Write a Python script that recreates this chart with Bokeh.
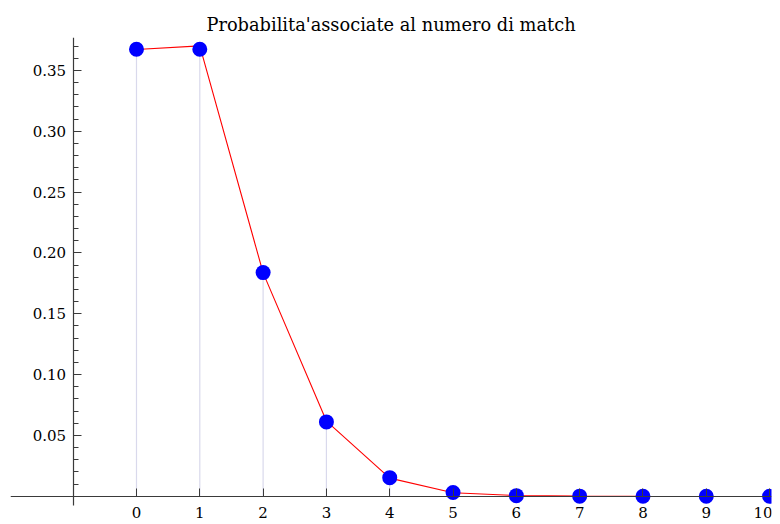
from bokeh.plotting import figure
from bokeh.models import (Range1d, LinearAxis, FixedTicker, PrintfTickFormatter,
                          ColumnDataSource)
from bokeh.embed import file_html
from bokeh.resources import INLINE

# ---- data ----
title_text = "Probabilita'associate al numero di match"
k_points = [0, 1, 2, 3, 4, 5, 6, 7, 8, 9, 10]
p_points = [0.3674, 0.3674, 0.1838, 0.0611, 0.0153, 0.0031, 0.0005, 0.0001, 0.0, 0.0, 0.0]
k_line = [0, 1, 2, 3, 4, 5, 6, 7, 8]
p_line = [0.3672, 0.3701, 0.1836, 0.0618, 0.0149, 0.0029, 0.0006, 0.0001, 0.0]
x_ticks = [0, 1, 2, 3, 4, 5, 6, 7, 8, 9, 10]
y_ticks = [0.0, 0.05, 0.10, 0.15, 0.20, 0.25, 0.30, 0.35]
y_minor = [i / 100 for i in range(1, 38) if i % 5 != 0]

Y_BOTTOM = -0.0076   # where the vertical axis ends
Y_TOP = 0.377

FONT = "DejaVu Serif"

p = figure(width=772, height=524, output_backend="svg", toolbar_location=None,
           x_range=Range1d(-1.99, 10.03), y_range=Range1d(-0.0232, Y_TOP),
           x_axis_location=None, y_axis_location=None,
           min_border_left=10, min_border_right=1, min_border_top=37,
           min_border_bottom=0)
p.outline_line_color = None
p.grid.visible = False
p.background_fill_color = "white"
p.border_fill_color = "white"

p.title.text = title_text
p.title.align = "center"
p.title.text_font = FONT
p.title.text_font_size = "17.8px"
p.title.text_font_style = "normal"
p.title.text_color = "black"
p.title.standoff = 5

src_pts = ColumnDataSource(dict(x=k_points, y=p_points, y0=[0] * len(k_points)))
src_line = ColumnDataSource(dict(x=k_line, y=p_line))

# stems (filling to axis)
p.segment(x0="x", y0="y0", x1="x", y1="y", source=src_pts,
          line_color="#d9d9ec", line_width=1.2)
# red line
p.line(x="x", y="y", source=src_line, line_color="#ff0000", line_width=1.1)
# blue points
p.scatter(x="x", y="y", source=src_pts, size=15, fill_color="#0000ff",
          line_color=None)

AX = "#3a3a3a"

xaxis = LinearAxis(fixed_location=0)
xaxis.ticker = FixedTicker(ticks=x_ticks, minor_ticks=[])
xaxis.axis_line_color = AX
xaxis.axis_line_width = 1.2
xaxis.major_tick_line_color = AX
xaxis.major_tick_in = 8
xaxis.major_tick_out = 0
xaxis.minor_tick_line_color = None
xaxis.major_label_text_font = FONT
xaxis.major_label_text_font_size = "15px"
xaxis.major_label_text_color = "black"
xaxis.major_label_standoff = 11
p.add_layout(xaxis, "below")

yaxis = LinearAxis(fixed_location=-1, bounds=(Y_BOTTOM, Y_TOP))
yaxis.ticker = FixedTicker(ticks=y_ticks, minor_ticks=y_minor)
yaxis.formatter = PrintfTickFormatter(format="%.2f")
yaxis.major_label_overrides = {0: ""}
yaxis.axis_line_color = AX
yaxis.axis_line_width = 1.2
yaxis.major_tick_line_color = AX
yaxis.major_tick_in = 8
yaxis.major_tick_out = 0
yaxis.minor_tick_line_color = AX
yaxis.minor_tick_in = 5
yaxis.minor_tick_out = 0
yaxis.major_label_text_font = FONT
yaxis.major_label_text_font_size = "15px"
yaxis.major_label_text_color = "black"
yaxis.major_label_standoff = 7
p.add_layout(yaxis, "left")

open("out.html", "w").write(file_html(p, INLINE))
